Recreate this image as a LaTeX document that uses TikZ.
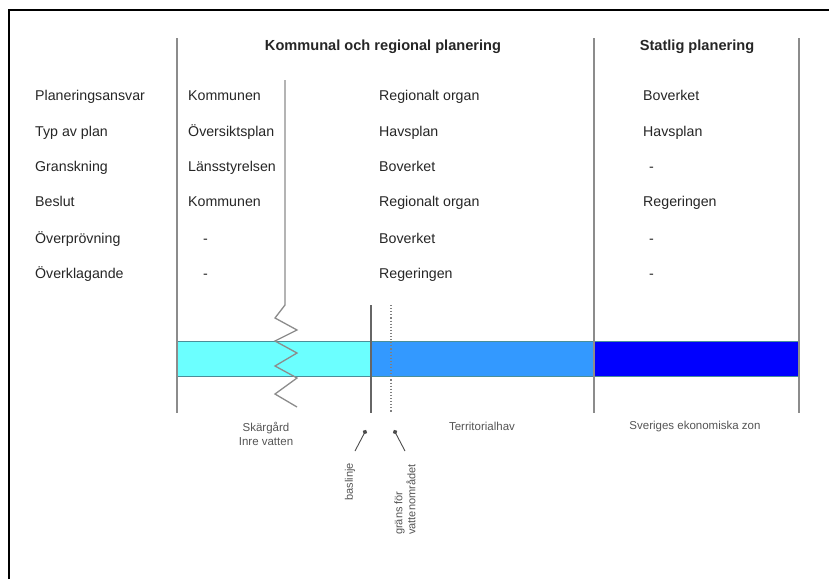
\documentclass[tikz,border=0pt]{standalone}
\usepackage{fontspec}
\setmainfont{Liberation Sans}
\usetikzlibrary{arrows.meta}
\definecolor{inner}{HTML}{6BFFFF}
\definecolor{terr}{HTML}{3399FF}
\definecolor{ekz}{HTML}{0000FF}
\definecolor{vline}{HTML}{8C8C8C}
\definecolor{small}{HTML}{555555}
\definecolor{bandline}{HTML}{4A8F9A}
\tikzset{
  lbl/.style={anchor=west, inner sep=0pt, text height=10.5pt, text depth=3pt, font=\fontsize{14.2}{16}\selectfont, text=black!85},
  hdr/.style={anchor=center, inner sep=0pt, text height=10.5pt, text depth=3pt, font=\fontsize{14.6}{16}\selectfont\bfseries, text=black!85},
  zone/.style={anchor=center, inner sep=0pt, align=center, font=\fontsize{11.5}{14}\selectfont, text=small},
  rot/.style={inner sep=0pt, rotate=90, align=left, font=\fontsize{11}{13}\selectfont, text=small},
  sep/.style={draw=vline, line width=1.4pt},
  pointer/.style={draw=black!70, line width=0.9pt, -{Circle[length=4.5pt]}},
  band/.style={draw=bandline, line width=0.9pt}
}
\begin{document}
\begin{tikzpicture}[x=1pt,y=-1pt]
\useasboundingbox (0,0) rectangle (829,579);
\fill[white] (0,0) rectangle (829,579);
% frame
\draw[black, line width=2pt] (9,579) -- (9,10) -- (829,10);

% colour bar
\fill[inner] (177,341) rectangle (371,376);
\fill[terr] (371,341) rectangle (594,376);
\fill[ekz] (594,341) rectangle (799,376);
\draw[band] (177,341) -- (799,341);
\draw[band] (177,376) -- (799,376);

% separators
\coordinate (s1t) at (177,38); \coordinate (s1b) at (177,413);
\coordinate (s3t) at (594,38); \coordinate (s3b) at (594,413);
\coordinate (s4t) at (799,38); \coordinate (s4b) at (799,413);
\draw[sep] (s1t) -- (s1b);
\draw[sep] (s3t) -- (s3b);
\draw[sep] (s4t) -- (s4b);
\coordinate (s2t) at (285,80);
\draw[draw=vline, line width=1.3pt, line join=miter] (s2t) -- (285,305) -- (275,318) -- (297,330) -- (275,341) -- (297,353) -- (275,366) -- (297,378) -- (275,394) -- (297,407);
% baseline and water boundary
\coordinate (bt) at (371,305); \coordinate (bb) at (371,413);
\coordinate (vt) at (391,305); \coordinate (vb) at (391,413);
\draw[draw=black!60, line width=1.1pt] (bt) -- (bb);
\draw[draw=black!50, line width=1.1pt, dotted] (vt) -- (vb);

% headers
\node[hdr] (h1) at (383,47) {Kommunal och regional planering};
\node[hdr] (h2) at (697,47) {Statlig planering};

% row labels
\node[lbl] (r1) at (35,97) {Planeringsansvar};
\node[lbl] (r2) at (35,133) {Typ av plan};
\node[lbl] (r3) at (35,168) {Granskning};
\node[lbl] (r4) at (35,203) {Beslut};
\node[lbl] (r5) at (35,240) {Överprövning};
\node[lbl] (r6) at (35,275) {Överklagande};

% column: kommunal
\node[lbl] (a1) at (188,97) {Kommunen};
\node[lbl] (a2) at (188,133) {Översiktsplan};
\node[lbl] (a3) at (188,168) {Länsstyrelsen};
\node[lbl] (a4) at (188,203) {Kommunen};
\node[lbl] (a5) at (203,240) {-};
\node[lbl] (a6) at (203,275) {-};

% column: regional
\node[lbl] (b1) at (379,97) {Regionalt organ};
\node[lbl] (b2) at (379,133) {Havsplan};
\node[lbl] (b3) at (379,168) {Boverket};
\node[lbl] (b4) at (379,203) {Regionalt organ};
\node[lbl] (b5) at (379,240) {Boverket};
\node[lbl] (b6) at (379,275) {Regeringen};

% column: statlig
\node[lbl] (c1) at (643,97) {Boverket};
\node[lbl] (c2) at (643,133) {Havsplan};
\node[lbl] (c3) at (649,168) {-};
\node[lbl] (c4) at (643,203) {Regeringen};
\node[lbl] (c5) at (649,240) {-};
\node[lbl] (c6) at (649,275) {-};

% zone labels
\node[zone] (z1) at (266,434) {Skärgård\\Inre vatten};
\node[zone] (z2) at (482,426) {Territorialhav};
\node[zone] (z3) at (695,427) {Sveriges ekonomiska zon};

% pointers
\coordinate (p1s) at (355,451); \coordinate (p1e) at (366,430);
\coordinate (p2s) at (405,451); \coordinate (p2e) at (394,430);
\draw[pointer] (p1s) -- (p1e);
\draw[pointer] (p2s) -- (p2e);

% rotated labels
\node[rot, anchor=east] (t1) at (350,463) {baslinje};
\node[rot, anchor=west] (t2) at (405,535) {gräns för\\vattenområdet};
\end{tikzpicture}
\end{document}
